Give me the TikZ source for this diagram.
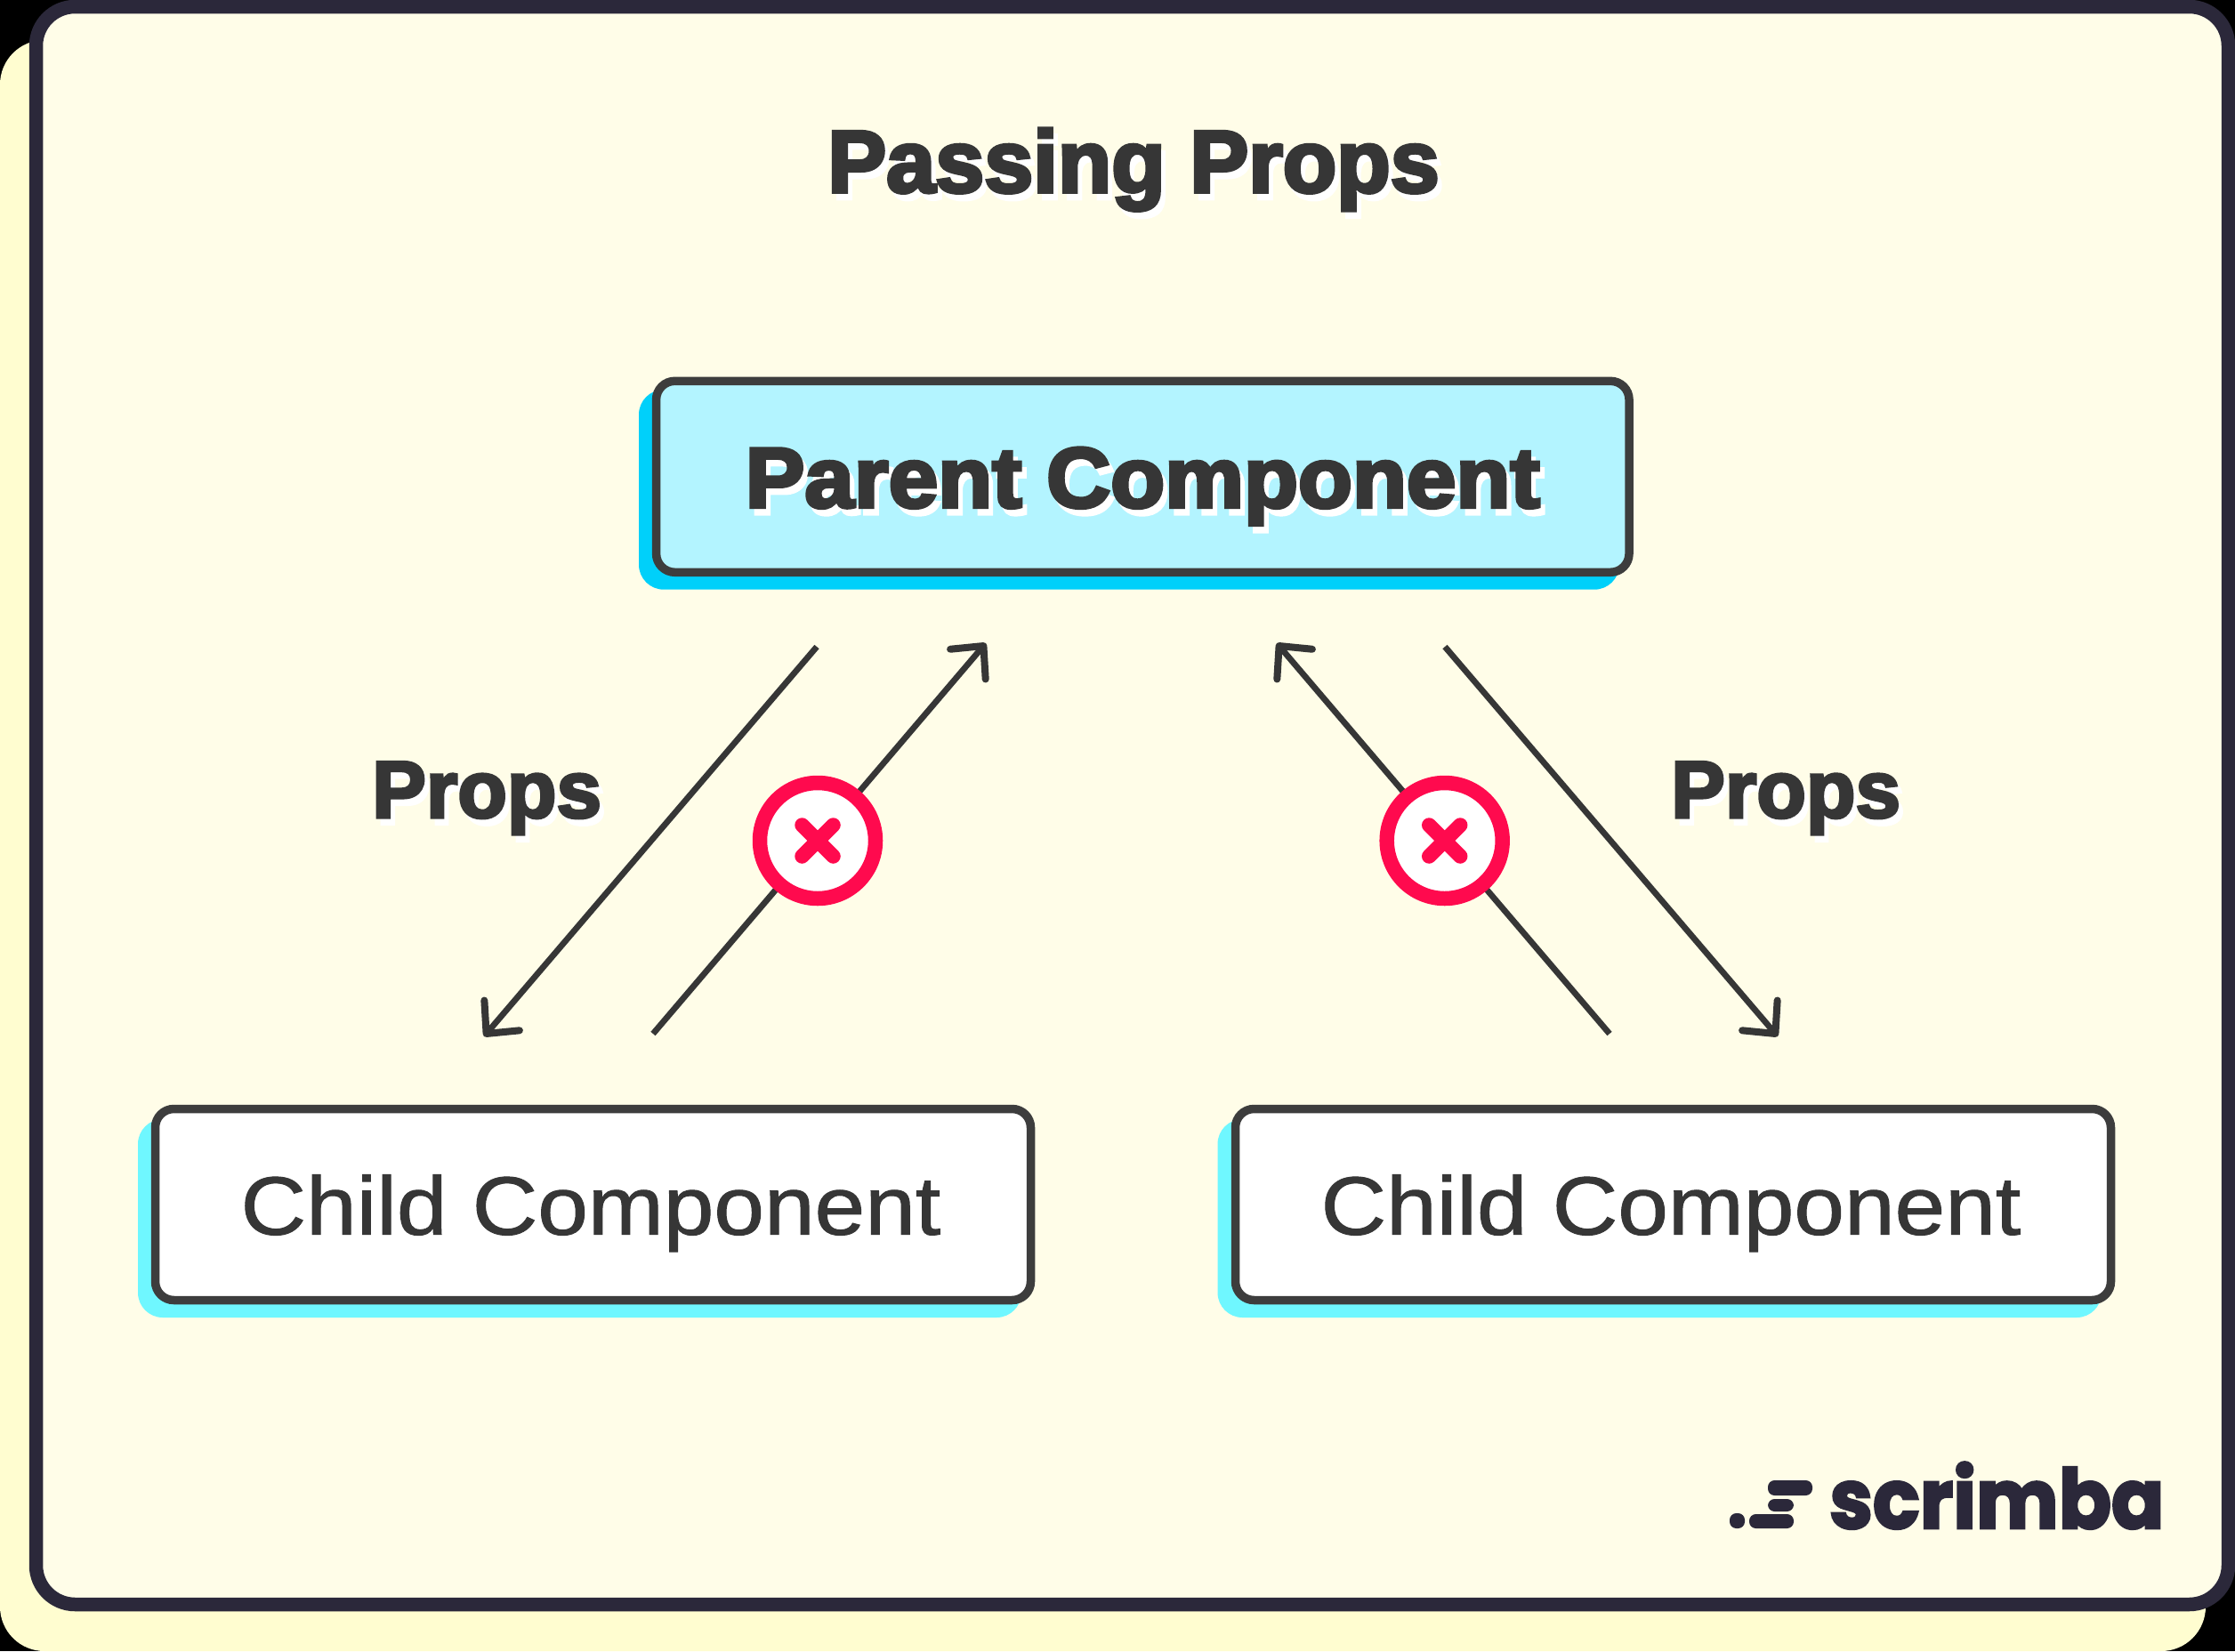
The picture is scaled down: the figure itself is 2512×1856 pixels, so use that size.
\documentclass[tikz,border=0pt]{standalone}
\usepackage{fontspec}
\usetikzlibrary{arrows.meta}
\setmainfont{Liberation Sans}
\font\heavytitle="Liberation Sans/B:embolden=4" at 99pt
\font\heavyparent="Liberation Sans/B:embolden=4" at 96pt
\font\heavyprops="Liberation Sans/B:embolden=3.5" at 91pt
\font\plainchild="Liberation Sans:embolden=1" at 93pt
\font\logoface="Poppins/B:embolden=3" at 93pt
\definecolor{outerbg}{HTML}{000000}
\definecolor{backcard}{HTML}{FFFDD0}
\definecolor{frontcard}{HTML}{FFFDE8}
\definecolor{cardedge}{HTML}{2B283A}
\definecolor{inkc}{HTML}{363636}
\definecolor{boxedge}{HTML}{3D3D3D}
\definecolor{parentfill}{HTML}{B3F4FF}
\definecolor{parentshade}{HTML}{00D0FA}
\definecolor{childshade}{HTML}{6FF7FF}
\definecolor{stopred}{HTML}{FF0A4E}
\newcommand{\shadowed}[1]{\rlap{\kern5pt\raisebox{-7.5pt}{\color{white}#1}}#1}
\tikzset{
  compbox/.style={draw=boxedge,line width=9.5pt,rounded corners=21pt,inner sep=0pt,outer sep=0pt,text=inkc,anchor=center},
  parentbox/.style={compbox,fill=parentfill,minimum width=1093.5pt,minimum height=215pt,text height=69pt,text depth=0pt},
  childbox/.style={compbox,fill=white,minimum width=984pt,minimum height=215pt,text height=67.5pt,text depth=0pt},
  heading/.style={inner sep=0pt,text=inkc},
  flow/.style={draw=inkc,line width=6.8pt},
  flowhead/.style={flow,-{Straight Barb[length=27pt,width=52pt,line width=8pt,round]}},
  stopmark/.style={circle,draw=stopred,line width=16.5pt,fill=white,minimum size=130pt,inner sep=0pt,outer sep=0pt},
  stopcross/.style={draw=stopred,line width=16.5pt,line cap=round},
  logopart/.style={fill=cardedge,rounded corners=7.5pt}
}
\begin{document}
\begin{tikzpicture}[x=1pt,y=-1pt]
\useasboundingbox (0,0) rectangle (2512,1856);
\fill[outerbg] (0,0) rectangle (2512,1856);
\fill[backcard,rounded corners=50pt] (0,45) rectangle (2479,1856);
\draw[cardedge,fill=frontcard,line width=15.5pt,rounded corners=44pt] (40.5,7.5) rectangle (2504.5,1803.5);
\node[heading,anchor=base] (title) at (1274,216) {\shadowed{\heavytitle Passing Props}};
% box shadows
\fill[parentshade,rounded corners=28pt] (718,438) rectangle (1820,662.7);
\fill[childshade,rounded corners=28pt] (155,1258) rectangle (1148,1481);
\fill[childshade,rounded corners=28pt] (1368.5,1258) rectangle (2362,1481);
% boxes
\node[parentbox] (parent) at (1284.3,535.8) {\scalebox{1.04}[1]{\shadowed{\heavyparent Parent Component}}};
\node[childbox] (childa) at (666.5,1354) {\hspace*{-5pt}\scalebox{1.095}[1]{\plainchild Child Component}};
\node[childbox] (childb) at (1880.5,1354) {\hspace*{-5pt}\scalebox{1.095}[1]{\plainchild Child Component}};
% labels
\node[heading,anchor=base west] (propsa) at (418,919) {\shadowed{\heavyprops Props}};
\node[heading,anchor=base west] (propsb) at (1878,919) {\shadowed{\heavyprops Props}};
% arrow ends
\coordinate (a1s) at (918,727);
\coordinate (a1e) at (544,1165);
\coordinate (a2s) at (734,1162);
\coordinate (a2e) at (1108,723);
\coordinate (a3s) at (1809,1162);
\coordinate (a3e) at (1435,723);
\coordinate (a4s) at (1624,727);
\coordinate (a4e) at (1998,1165);
\draw[flowhead] (a1s) -- (a1e);
\draw[flowhead] (a2s) -- (a2e);
\draw[flowhead] (a3s) -- (a3e);
\draw[flowhead] (a4s) -- (a4e);
% stop marks
\node[stopmark] (stopa) at (919,945) {};
\node[stopmark] (stopb) at (1623.7,945) {};
\foreach \n in {stopa,stopb}{
  \draw[stopcross] ([shift={(-17.5,-17.5)}]\n.center) -- ([shift={(17.5,17.5)}]\n.center);
  \draw[stopcross] ([shift={(17.5,-17.5)}]\n.center) -- ([shift={(-17.5,17.5)}]\n.center);
}
% logo
\fill[logopart] (1944,1701) rectangle (1961,1718);
\fill[logopart] (1966,1702) rectangle (2016,1718);
\fill[logopart] (1987,1685) rectangle (2016,1699);
\fill[logopart] (1987,1664) rectangle (2037,1681);
\node[inner sep=0pt,anchor=base west,text=cardedge] (logo) at (2056,1718) {\scalebox{0.94}[1]{\logoface scrimba}};
\end{tikzpicture}
\end{document}
